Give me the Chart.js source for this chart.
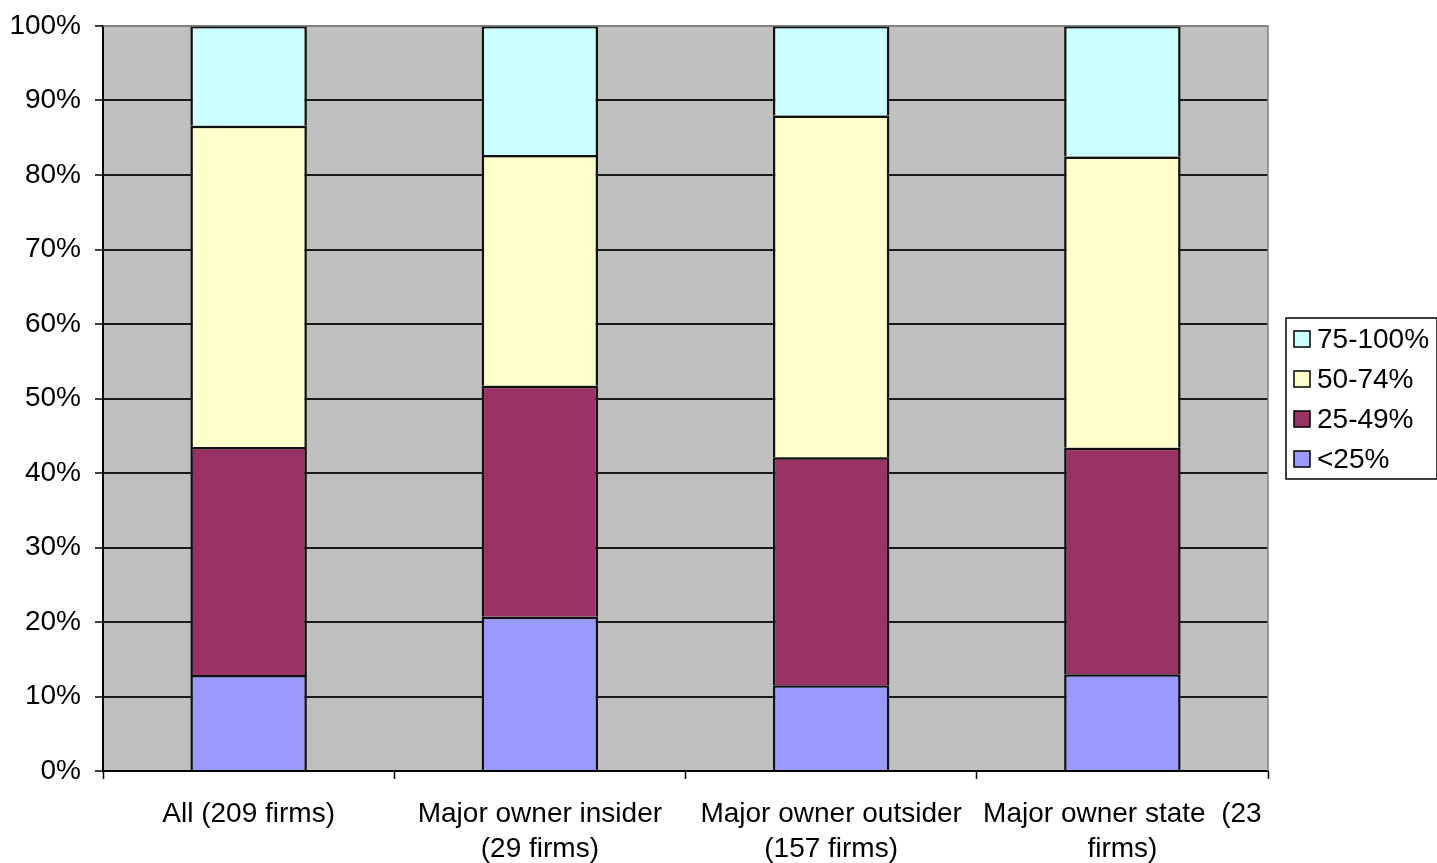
<!DOCTYPE html>
<html>
<head>
<meta charset="utf-8">
<script src="https://cdn.jsdelivr.net/npm/chart.js@4.4.1/dist/chart.umd.min.js"></script>
<style>
  html, body { margin: 0; padding: 0; background: #ffffff; }
  #wrap { width: 1437px; height: 863px; }
</style>
</head>
<body>
<div id="wrap"><canvas id="c" width="1437" height="863"></canvas></div>
<script>
// Share of firms in each band, per ownership group (percent)
const categories = [
  ["All (209 firms)"],
  ["Major owner insider", "(29 firms)"],
  ["Major owner outsider", "(157 firms)"],
  ["Major owner state  (23", "firms)"]
];
const bandLabels = ["<25%", "25-49%", "50-74%", "75-100%"];
const below25   = [12.9, 20.7, 11.5, 13.0];
const from25to49 = [30.6, 31.0, 30.6, 30.4];
const from50to74 = [43.1, 31.0, 45.9, 39.1];
const from75to100 = [13.4, 17.3, 12.0, 17.5];
const yTicks = [0, 10, 20, 30, 40, 50, 60, 70, 80, 90, 100];

const bandColors = ["#9999FF", "#993366", "#FFFFCC", "#CCFFFF"];
const seriesValues = [below25, from25to49, from50to74, from75to100];

const FONT = "'Liberation Sans', Arial, sans-serif";

// Grey plot background plus the grey frame on the top/right edges
const plotFrame = {
  id: 'plotFrame',
  beforeDraw(chart) {
    const { ctx, chartArea: a } = chart;
    ctx.save();
    ctx.fillStyle = '#C0C0C0';
    ctx.fillRect(a.left, a.top, a.right - a.left, a.bottom - a.top);
    ctx.restore();
  },
  afterDatasetsDraw(chart) {
    const { ctx, chartArea: a } = chart;
    ctx.save();
    ctx.strokeStyle = '#808080';
    ctx.lineWidth = 1.5;
    ctx.beginPath();
    ctx.moveTo(a.left, a.top);
    ctx.lineTo(a.right, a.top);
    ctx.lineTo(a.right, a.bottom);
    ctx.stroke();
    ctx.restore();
  }
};

// Boxed legend at the right, top band listed first
const sideLegend = {
  id: 'sideLegend',
  afterDraw(chart) {
    const { ctx, chartArea: a } = chart;
    const x = a.right + 18, y = 318, w = 151, h = 161;
    ctx.save();
    ctx.fillStyle = '#ffffff';
    ctx.fillRect(x, y, w, h);
    ctx.strokeStyle = '#000';
    ctx.lineWidth = 1.5;
    ctx.strokeRect(x, y, w, h);
    ctx.font = '28px ' + FONT;
    ctx.textBaseline = 'middle';
    ctx.textAlign = 'left';
    const ds = chart.data.datasets.slice().reverse();
    ds.forEach((d, i) => {
      const cy = y + 21 + i * 40;
      ctx.fillStyle = d.backgroundColor;
      ctx.fillRect(x + 8, cy - 8, 16, 16);
      ctx.strokeStyle = '#000';
      ctx.lineWidth = 1.5;
      ctx.strokeRect(x + 8, cy - 8, 16, 16);
      ctx.fillStyle = '#000';
      ctx.fillText(d.label, x + 31, cy + 1);
    });
    ctx.restore();
  }
};

new Chart(document.getElementById('c'), {
  type: 'bar',
  data: {
    labels: categories,
    datasets: seriesValues.map((vals, i) => ({
      label: bandLabels[i],
      data: vals,
      backgroundColor: bandColors[i],
      borderColor: '#111',
      borderWidth: 2.5,
      borderSkipped: 'start',
      categoryPercentage: 1.0,
      barPercentage: 0.4
    }))
  },
  options: {
    responsive: false,
    animation: false,
    devicePixelRatio: 1,
    layout: { padding: { top: 26, right: 169, left: 0, bottom: 0 } },
    plugins: {
      legend: { display: false },
      tooltip: { enabled: false }
    },
    scales: {
      x: {
        stacked: true,
        offset: true,
        grid: {
          offset: true,
          drawOnChartArea: false,
          drawTicks: true,
          tickLength: 8,
          tickColor: '#000',
          tickWidth: 1.5
        },
        border: { color: '#000', width: 2 },
        ticks: {
          color: '#000',
          font: { family: FONT, size: 28, lineHeight: 1.25 },
          padding: 18,
          maxRotation: 0,
          autoSkip: false
        },
        afterFit(scale) { scale.height = 92; }
      },
      y: {
        stacked: true,
        min: 0,
        max: 100,
        afterBuildTicks(scale) { scale.ticks = yTicks.map(v => ({ value: v })); },
        grid: {
          color: ctx => (ctx.tick && ctx.tick.value === 100) ? '#808080' : '#1a1a1a',
          lineWidth: 2,
          tickLength: 8,
          tickColor: '#000',
          tickWidth: 1.5
        },
        border: { color: '#000', width: 2 },
        ticks: {
          color: '#000',
          font: { family: FONT, size: 28 },
          padding: 14,
          callback: v => v + '%'
        },
        afterFit(scale) {
          scale.width = 103;
          scale.paddingTop = 0;
          scale.paddingBottom = 0;
        }
      }
    }
  },
  plugins: [plotFrame, sideLegend]
});
</script>
</body>
</html>
